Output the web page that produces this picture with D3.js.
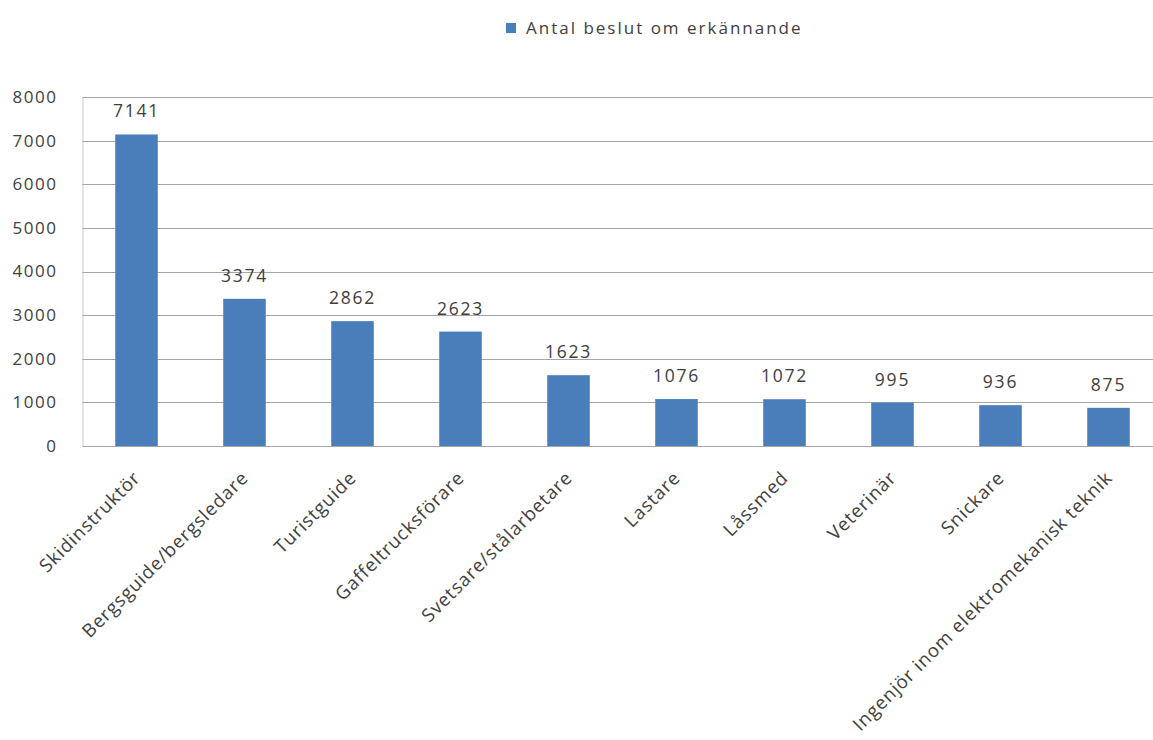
<!DOCTYPE html>
<html>
<head>
<meta charset="utf-8">
<script src="https://cdn.jsdelivr.net/npm/d3@7"></script>
<style>
  body { margin: 0; background: #fff; }
  text { font-family: "Open Sans", "DejaVu Sans", sans-serif; fill: #404040; }
</style>
</head>
<body>
<svg id="chart" width="1153" height="740"></svg>
<script>
// data
const categories = ['Skidinstruktör', 'Bergsguide/bergsledare', 'Turistguide', 'Gaffeltrucksförare',
  'Svetsare/stålarbetare', 'Lastare', 'Låssmed', 'Veterinär', 'Snickare',
  'Ingenjör inom elektromekanisk teknik'];
const values = [7141, 3374, 2862, 2623, 1623, 1076, 1072, 995, 936, 875];
const yTicks = [0, 1000, 2000, 3000, 4000, 5000, 6000, 7000, 8000];
const seriesName = 'Antal beslut om erkännande';

const BAR_COLOR = '#4a7ebb';
const GRID_COLOR = '#a6a6a6';
// the plot runs past the right edge of the picture (cropped in the original)
const plot = { left: 82.5, top: 97, width: 1080, height: 349 };

const svg = d3.select('#chart');

const x = d3.scaleBand()
  .domain(categories)
  .range([0, plot.width])
  .paddingInner(0.606)
  .paddingOuter(0.303);

const y = d3.scaleLinear()
  .domain([0, 8000])
  .range([plot.height, 0]);

const g = svg.append('g')
  .attr('transform', `translate(${plot.left},${plot.top})`);

// left frame edge
g.append('line')
  .attr('x1', 0.5).attr('x2', 0.5)
  .attr('y1', 0).attr('y2', plot.height)
  .attr('stroke', '#c8c8c8');

// gridlines
g.append('g')
  .selectAll('line')
  .data(yTicks)
  .enter()
  .append('line')
  .attr('x1', 0)
  .attr('x2', plot.width)
  .attr('y1', d => Math.round(y(d)) + 0.5)
  .attr('y2', d => Math.round(y(d)) + 0.5)
  .attr('stroke', GRID_COLOR)
  .attr('stroke-width', 1);

// y axis
const yAxis = g.append('g')
  .call(d3.axisLeft(y).tickValues(yTicks).tickFormat(d3.format('d')).tickSize(0).tickPadding(25));
yAxis.select('.domain').remove();
yAxis.selectAll('text')
  .style('font-size', '17px')
  .style('letter-spacing', '1.5px')
  .attr('fill', '#404040');

// bars
g.append('g')
  .selectAll('rect')
  .data(values)
  .enter()
  .append('rect')
  .attr('x', (d, i) => x(categories[i]))
  .attr('y', d => y(d))
  .attr('width', x.bandwidth())
  .attr('height', d => plot.height - y(d))
  .attr('fill', BAR_COLOR);

// value labels
g.append('g')
  .selectAll('text')
  .data(values)
  .enter()
  .append('text')
  .attr('x', (d, i) => x(categories[i]) + x.bandwidth() / 2)
  .attr('y', d => y(d) - 17)
  .attr('text-anchor', 'middle')
  .style('font-size', '17.5px')
  .style('letter-spacing', '1.8px')
  .text(d => d);

// x labels, rotated
const xAxis = g.append('g')
  .attr('transform', `translate(0,${plot.height})`)
  .call(d3.axisBottom(x).tickSize(0).tickPadding(0));
xAxis.select('.domain').remove();
xAxis.selectAll('text')
  .style('font-size', '18.5px')
  .style('letter-spacing', '0.9px')
  .attr('fill', '#262626')
  .attr('text-anchor', 'end')
  .attr('dy', null)
  .attr('transform', 'translate(5,33) rotate(-45)');

// legend
const legend = svg.append('g')
  .attr('transform', 'translate(506,28)');
legend.append('rect')
  .attr('x', 0)
  .attr('y', -5)
  .attr('width', 10)
  .attr('height', 10)
  .attr('fill', BAR_COLOR);
legend.append('text')
  .attr('x', 20)
  .attr('y', 0)
  .attr('dy', '0.35em')
  .style('font-size', '17px')
  .style('letter-spacing', '2px')
  .text(seriesName);
</script>
</body>
</html>
